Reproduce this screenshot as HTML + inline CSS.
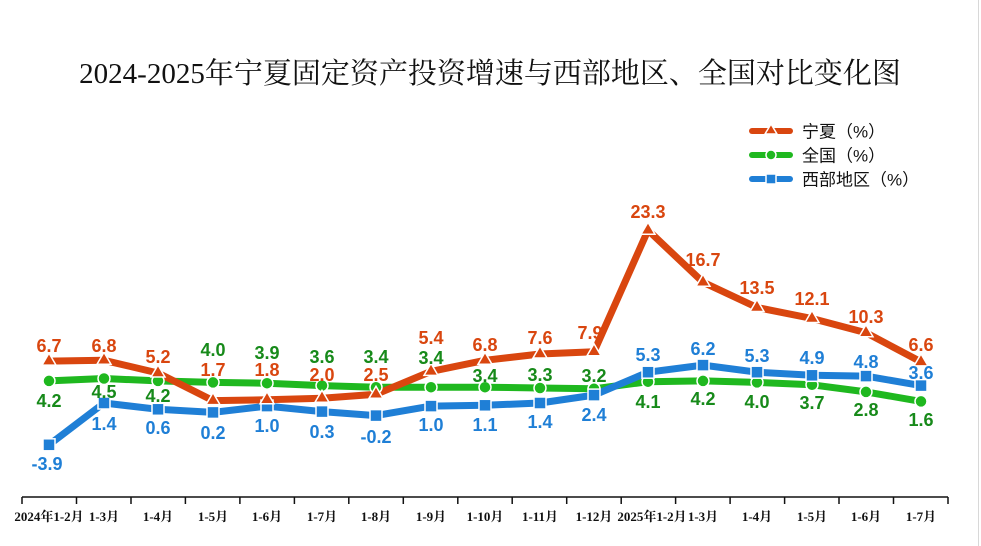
<!DOCTYPE html>
<html><head><meta charset="utf-8"><style>
html,body{margin:0;padding:0;background:#fff;}
svg{display:block;}
.t{font-family:"Liberation Serif","Noto Serif CJK SC",serif;}
.v{font-family:"Liberation Sans",sans-serif;font-weight:bold;font-size:18px;text-anchor:middle;dominant-baseline:central;}
.r{fill:#d9460f}.g{fill:#178a1a}.b{fill:#1f7fd6}
.x{font-family:"Liberation Serif","Noto Serif CJK SC",serif;font-weight:bold;font-size:13px;text-anchor:middle;}
.lg{font-family:"Liberation Sans","Noto Sans CJK SC",sans-serif;font-size:17px;fill:#111;dominant-baseline:central;}
</style></head><body>
<svg width="981" height="546" viewBox="0 0 981 546" xmlns="http://www.w3.org/2000/svg">
<rect width="981" height="546" fill="#fff"/>
<line x1="978.5" y1="0" x2="978.5" y2="546" stroke="#d8d8d8" stroke-width="1"/>
<text class="t" x="490" y="83" text-anchor="middle" font-size="29" fill="#111">2024-2025年宁夏固定资产投资增速与西部地区、全国对比变化图</text>

<!-- legend -->
<line x1="752" y1="131" x2="790" y2="131" stroke="#d9460f" stroke-width="6" stroke-linecap="round"/>
<polygon points="771,124 777,134 765,134" fill="#d9460f" stroke="#fff" stroke-width="1.5"/>
<text class="lg" x="802" y="132">宁夏（%）</text>
<line x1="752" y1="155" x2="790" y2="155" stroke="#1fb81f" stroke-width="6" stroke-linecap="round"/>
<circle cx="771" cy="155" r="5" fill="#1fb81f" stroke="#fff" stroke-width="1.5"/>
<text class="lg" x="802" y="156">全国（%）</text>
<line x1="752" y1="179" x2="790" y2="179" stroke="#1f7fd6" stroke-width="6" stroke-linecap="round"/>
<rect x="766" y="174" width="10" height="10" fill="#1f7fd6" stroke="#fff" stroke-width="1.5"/>
<text class="lg" x="802" y="180">西部地区（%）</text>

<!-- axis -->
<line x1="22" y1="497" x2="948" y2="497" stroke="#111" stroke-width="1.5"/>
<g stroke="#111" stroke-width="1.5">
<line x1="22" y1="497" x2="22" y2="504"/><line x1="76.5" y1="497" x2="76.5" y2="504"/><line x1="131" y1="497" x2="131" y2="504"/><line x1="185.4" y1="497" x2="185.4" y2="504"/><line x1="239.9" y1="497" x2="239.9" y2="504"/><line x1="294.4" y1="497" x2="294.4" y2="504"/><line x1="348.8" y1="497" x2="348.8" y2="504"/><line x1="403.3" y1="497" x2="403.3" y2="504"/><line x1="457.8" y1="497" x2="457.8" y2="504"/><line x1="512.2" y1="497" x2="512.2" y2="504"/><line x1="566.7" y1="497" x2="566.7" y2="504"/><line x1="621.2" y1="497" x2="621.2" y2="504"/><line x1="675.6" y1="497" x2="675.6" y2="504"/><line x1="730.1" y1="497" x2="730.1" y2="504"/><line x1="784.6" y1="497" x2="784.6" y2="504"/><line x1="839" y1="497" x2="839" y2="504"/><line x1="893.5" y1="497" x2="893.5" y2="504"/><line x1="948" y1="497" x2="948" y2="504"/>
</g>
<g class="x" fill="#111">
<text x="49" y="521">2024年1-2月</text><text x="104" y="521">1-3月</text><text x="158" y="521">1-4月</text><text x="213" y="521">1-5月</text><text x="267" y="521">1-6月</text><text x="322" y="521">1-7月</text><text x="376" y="521">1-8月</text><text x="431" y="521">1-9月</text><text x="485" y="521">1-10月</text><text x="540" y="521">1-11月</text><text x="594" y="521">1-12月</text><text x="652" y="521">2025年1-2月</text><text x="703" y="521">1-3月</text><text x="757" y="521">1-4月</text><text x="812" y="521">1-5月</text><text x="866" y="521">1-6月</text><text x="921" y="521">1-7月</text>
</g>

<!-- lines -->
<polyline fill="none" stroke="#1fb81f" stroke-width="7" stroke-linejoin="round" points="49,380.9 104,378.5 158,380.9 213,382.4 267,383.2 322,385.6 376,387.2 431,387.2 485,387.2 540,388 594,388.8 648,381.7 703,380.9 757,382.4 812,384.8 866,391.9 921,401.4"/>
<polyline fill="none" stroke="#1f7fd6" stroke-width="7" stroke-linejoin="round" points="49,444.8 104,403 158,409.3 213,412.4 267,406.1 322,411.6 376,415.6 431,406.1 485,405.3 540,403 594,395.1 648,372.2 703,365.1 757,372.2 812,375.3 866,376.1 921,385.6"/>
<polyline fill="none" stroke="#d9460f" stroke-width="7" stroke-linejoin="round" points="49,361.1 104,360.3 158,373 213,400.6 267,399.8 322,398.2 376,394.3 431,371.4 485,360.3 540,354 594,351.7 648,230.2 703,282.2 757,307.5 812,318.5 866,332.7 921,361.9"/>

<!-- markers -->
<g fill="#1fb81f" stroke="#fff" stroke-width="1.5">
<circle cx="49" cy="380.9" r="6"/><circle cx="104" cy="378.5" r="6"/><circle cx="158" cy="380.9" r="6"/><circle cx="213" cy="382.4" r="6"/><circle cx="267" cy="383.2" r="6"/><circle cx="322" cy="385.6" r="6"/><circle cx="376" cy="387.2" r="6"/><circle cx="431" cy="387.2" r="6"/><circle cx="485" cy="387.2" r="6"/><circle cx="540" cy="388" r="6"/><circle cx="594" cy="388.8" r="6"/><circle cx="648" cy="381.7" r="6"/><circle cx="703" cy="380.9" r="6"/><circle cx="757" cy="382.4" r="6"/><circle cx="812" cy="384.8" r="6"/><circle cx="866" cy="391.9" r="6"/><circle cx="921" cy="401.4" r="6"/>
</g>
<g fill="#1f7fd6" stroke="#fff" stroke-width="1.5">
<rect x="43" y="438.8" width="12" height="12"/><rect x="98" y="397" width="12" height="12"/><rect x="152" y="403.3" width="12" height="12"/><rect x="207" y="406.4" width="12" height="12"/><rect x="261" y="400.1" width="12" height="12"/><rect x="316" y="405.6" width="12" height="12"/><rect x="370" y="409.6" width="12" height="12"/><rect x="425" y="400.1" width="12" height="12"/><rect x="479" y="399.3" width="12" height="12"/><rect x="534" y="397" width="12" height="12"/><rect x="588" y="389.1" width="12" height="12"/><rect x="642" y="366.2" width="12" height="12"/><rect x="697" y="359.1" width="12" height="12"/><rect x="751" y="366.2" width="12" height="12"/><rect x="806" y="369.3" width="12" height="12"/><rect x="860" y="370.1" width="12" height="12"/><rect x="915" y="379.6" width="12" height="12"/>
</g>
<g fill="#d9460f" stroke="#fff" stroke-width="1.5">
<polygon points="49,353.1 56,365.1 42,365.1"/><polygon points="104,352.3 111,364.3 97,364.3"/><polygon points="158,365 165,377 151,377"/><polygon points="213,392.6 220,404.6 206,404.6"/><polygon points="267,391.8 274,403.8 260,403.8"/><polygon points="322,390.2 329,402.2 315,402.2"/><polygon points="376,386.3 383,398.3 369,398.3"/><polygon points="431,363.4 438,375.4 424,375.4"/><polygon points="485,352.3 492,364.3 478,364.3"/><polygon points="540,346 547,358 533,358"/><polygon points="594,343.7 601,355.7 587,355.7"/><polygon points="648,222.2 655,234.2 641,234.2"/><polygon points="703,274.2 710,286.2 696,286.2"/><polygon points="757,299.5 764,311.5 750,311.5"/><polygon points="812,310.5 819,322.5 805,322.5"/><polygon points="866,324.7 873,336.7 859,336.7"/><polygon points="921,353.9 928,365.9 914,365.9"/>
</g>

<!-- labels -->
<g class="v r">
<text x="49" y="346">6.7</text><text x="104" y="346">6.8</text><text x="158" y="357">5.2</text><text x="213" y="370">1.7</text><text x="267" y="370">1.8</text><text x="322" y="375">2.0</text><text x="376" y="375">2.5</text><text x="431" y="338">5.4</text><text x="485" y="345">6.8</text><text x="540" y="338">7.6</text><text x="590" y="333">7.9</text><text x="648" y="212">23.3</text><text x="703" y="260">16.7</text><text x="757" y="288">13.5</text><text x="812" y="299">12.1</text><text x="866" y="317">10.3</text><text x="921" y="345">6.6</text>
</g>
<g class="v g">
<text x="49" y="401">4.2</text><text x="104" y="392">4.5</text><text x="158" y="396">4.2</text><text x="213" y="350">4.0</text><text x="267" y="353">3.9</text><text x="322" y="357">3.6</text><text x="376" y="357">3.4</text><text x="431" y="358">3.4</text><text x="485" y="376">3.4</text><text x="540" y="375">3.3</text><text x="594" y="376">3.2</text><text x="648" y="402">4.1</text><text x="703" y="399">4.2</text><text x="757" y="402">4.0</text><text x="812" y="403">3.7</text><text x="866" y="410">2.8</text><text x="921" y="420">1.6</text>
</g>
<g class="v b">
<text x="47" y="464">-3.9</text><text x="104" y="424">1.4</text><text x="158" y="428">0.6</text><text x="213" y="433">0.2</text><text x="267" y="426">1.0</text><text x="322" y="432">0.3</text><text x="376" y="437">-0.2</text><text x="431" y="425">1.0</text><text x="485" y="425">1.1</text><text x="540" y="422">1.4</text><text x="594" y="415">2.4</text><text x="648" y="355">5.3</text><text x="703" y="349">6.2</text><text x="757" y="356">5.3</text><text x="812" y="358">4.9</text><text x="866" y="362">4.8</text><text x="921" y="373">3.6</text>
</g>
</svg>
</body></html>
